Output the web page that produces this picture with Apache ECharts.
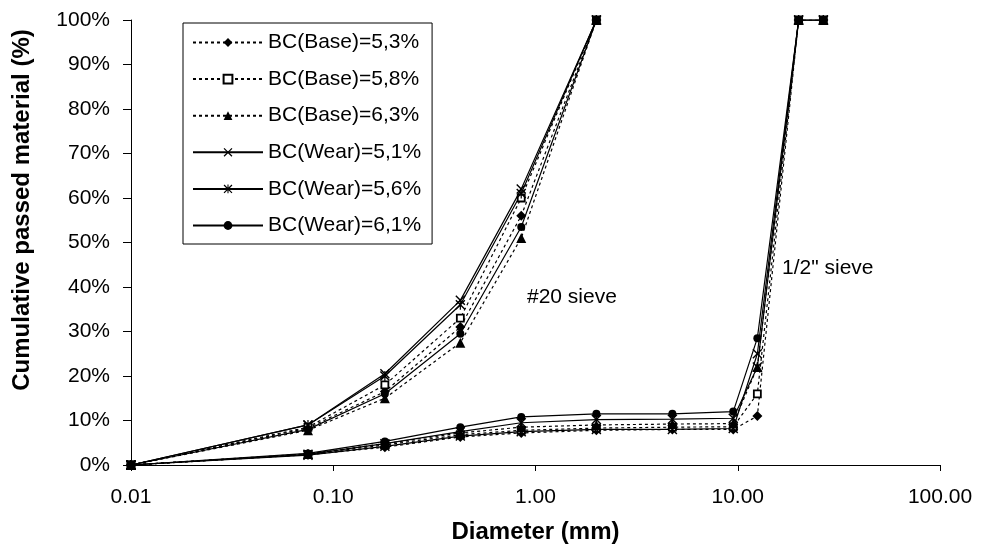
<!DOCTYPE html>
<html>
<head>
<meta charset="utf-8">
<script src="https://cdn.jsdelivr.net/npm/echarts@6/dist/echarts.min.js"></script>
<style>
  html, body { margin: 0; padding: 0; background: #fff; }
  #chart { width: 984px; height: 549px; }
</style>
</head>
<body>
<div id="chart"></div>
<script>
// sieve sizes (mm)
const fineSizes = [0.01, 0.075, 0.18, 0.425, 0.85, 2.0];
const coarseSizes = [0.01, 0.075, 0.18, 0.425, 0.85, 2.0, 4.75, 9.5, 12.5, 20, 26.5];

const mixNames = ['BC(Base)=5,3%', 'BC(Base)=5,8%', 'BC(Base)=6,3%',
                  'BC(Wear)=5,1%', 'BC(Wear)=5,6%', 'BC(Wear)=6,1%'];

// cumulative passed (%) - fine curves (100% at 2 mm)
const base53Fine = [0, 8.3, 16.5, 31, 56, 100];
const base58Fine = [0, 8.5, 18, 33, 60, 100];
const base63Fine = [0, 7.8, 15, 27.5, 51, 100];
const wear51Fine = [0, 9, 20.5, 37, 62, 100];
const wear56Fine = [0, 9, 20, 36, 61, 100];
const wear61Fine = [0, 8, 16, 29.5, 53.5, 100];

// cumulative passed (%) - coarse curves (100% at 20 mm)
const base53Coarse = [0, 2.3, 4.0, 6.3, 7.2, 7.8, 8.0, 8.0, 11, 100, 100];
const base58Coarse = [0, 2.4, 4.5, 6.8, 7.8, 8.3, 8.5, 8.6, 16, 100, 100];
const base63Coarse = [0, 2.5, 4.8, 7.2, 8.5, 9.0, 9.2, 9.3, 22, 100, 100];
const wear51Coarse = [0, 2.2, 4.2, 6.5, 7.5, 8.0, 8.0, 8.2, 25, 100, 100];
const wear56Coarse = [0, 2.4, 4.8, 7.5, 9.5, 10.2, 10.3, 10.5, 22, 100, 100];
const wear61Coarse = [0, 2.6, 5.3, 8.5, 10.8, 11.5, 11.5, 12.0, 28.5, 100, 100];

const yTicks = [0, 10, 20, 30, 40, 50, 60, 70, 80, 90, 100];

const fineData = [base53Fine, base58Fine, base63Fine, wear51Fine, wear56Fine, wear61Fine];
const coarseData = [base53Coarse, base58Coarse, base63Coarse, wear51Coarse, wear56Coarse, wear61Coarse];

const xPath = 'path://M1,0 L5,4 L9,0 L10,1 L6,5 L10,9 L9,10 L5,6 L1,10 L0,9 L4,5 L0,1 Z';
const starPath = 'path://M1,0 L5,4 L9,0 L10,1 L6,5 L10,9 L9,10 L5,6 L1,10 L0,9 L4,5 L0,1 Z M4.4,0 L5.6,0 L5.6,10 L4.4,10 Z';

const styles = [
  { symbol: 'diamond', size: 10, dash: [3, 3], fill: '#000' },
  { symbol: 'rect', size: 7, dash: [3, 3], fill: '#fff' },
  { symbol: 'triangle', size: 10, dash: [3, 3], fill: '#000' },
  { symbol: xPath, size: 10, dash: 'solid', fill: '#000' },
  { symbol: starPath, size: 10, dash: 'solid', fill: '#000' },
  { symbol: 'circle', size: 8, dash: 'solid', fill: '#000' }
];

const font = 'Liberation Sans, Arial, sans-serif';

function makeSeries(name, sizes, vals, st) {
  return {
    name: name,
    type: 'line',
    data: sizes.map((d, i) => [d, vals[i]]),
    symbol: st.symbol,
    symbolSize: st.size,
    showAllSymbol: true,
    lineStyle: { color: '#000', width: 1.2, type: st.dash },
    itemStyle: { color: st.fill, borderColor: '#000', borderWidth: st.fill === '#fff' ? 1.8 : 0 },
    emphasis: { disabled: true }
  };
}

const series = [];
mixNames.forEach((n, i) => {
  series.push(makeSeries(n, fineSizes, fineData[i], styles[i]));
  series.push(makeSeries(n, coarseSizes, coarseData[i], styles[i]));
});

const chart = echarts.init(document.getElementById('chart'));
chart.setOption({
  animation: false,
  backgroundColor: '#fff',
  grid: { left: 131, right: 44, top: 20, bottom: 84, containLabel: false },
  legend: {
    data: mixNames,
    orient: 'vertical',
    left: 183,
    top: 23,
    padding: [9, 11, 8, 9],
    itemWidth: 70,
    itemHeight: 11,
    itemGap: 15.6,
    borderColor: '#000',
    borderWidth: 1,
    backgroundColor: '#fff',
    textStyle: { fontSize: 21, color: '#000', fontFamily: font, lineHeight: 20 }
  },
  xAxis: {
    type: 'log',
    logBase: 10,
    min: 0.01,
    max: 100,
    name: 'Diameter (mm)',
    nameLocation: 'middle',
    nameGap: 55,
    nameTextStyle: { fontSize: 24, fontWeight: 'bold', color: '#000', fontFamily: font },
    axisLine: { lineStyle: { color: '#000', width: 1 } },
    axisTick: { show: true, length: 6, lineStyle: { color: '#000' } },
    minorTick: { show: false },
    splitLine: { show: false },
    axisLabel: {
      fontSize: 21, color: '#000', fontFamily: font, margin: 22,
      formatter: v => v.toFixed(2)
    }
  },
  yAxis: {
    type: 'value',
    min: yTicks[0],
    max: yTicks[yTicks.length - 1],
    interval: 10,
    axisLine: { show: true, lineStyle: { color: '#000', width: 1 } },
    axisTick: { show: true, length: 8, lineStyle: { color: '#000' } },
    splitLine: { show: false },
    axisLabel: { fontSize: 21, color: '#000', fontFamily: font, margin: 21, formatter: '{value}%' }
  },
  graphic: [
    {
      type: 'text', x: 22, y: 210, rotation: Math.PI / 2,
      style: {
        text: 'Cumulative passed material (%)', fontSize: 24, fontWeight: 'bold',
        fontFamily: font, fill: '#000', align: 'center', verticalAlign: 'middle'
      }
    },
    {
      type: 'text', x: 527, y: 297,
      style: { text: '#20 sieve', fontSize: 21, fontFamily: font, fill: '#000', verticalAlign: 'middle' }
    },
    {
      type: 'text', x: 782, y: 268,
      style: { text: '1/2" sieve', fontSize: 21, fontFamily: font, fill: '#000', verticalAlign: 'middle' }
    }
  ],
  series: series
});
</script>
</body>
</html>
